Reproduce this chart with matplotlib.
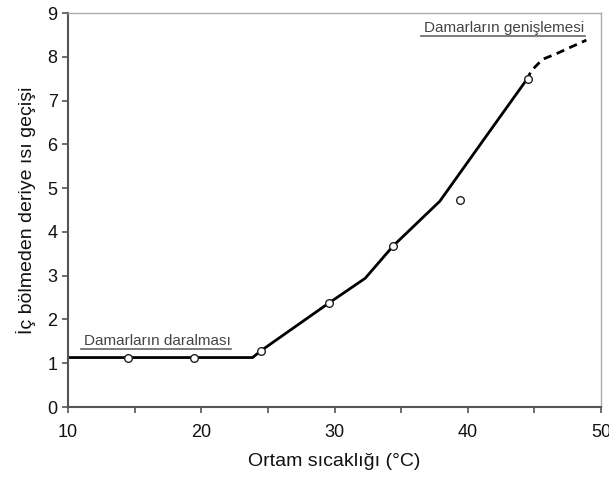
import matplotlib.pyplot as plt
from matplotlib.ticker import MultipleLocator

plt.rcParams['font.family'] = ['Liberation Sans', 'DejaVu Sans']

# measured points
obs_x = [14.5, 19.45, 24.5, 29.6, 34.4, 39.4, 44.5]
obs_y = [1.13, 1.13, 1.29, 2.38, 3.68, 4.72, 7.5]

# fitted curve (solid part)
fit_x = [10, 23.85, 24.5, 29.6, 32.3, 34.4, 37.9, 41.65, 44.4]
fit_y = [1.13, 1.13, 1.29, 2.38, 2.94, 3.68, 4.7, 6.3, 7.47]

# extrapolated part (dashed)
ext_x = [44.4, 44.8, 45.6, 46.65, 47.8, 48.9]
ext_y = [7.47, 7.69, 7.94, 8.07, 8.23, 8.38]

fig = plt.figure(figsize=(6.09, 4.78), dpi=100)
ax = fig.add_axes([0.1117, 0.1485, 0.8752, 0.8243])

ax.plot(fit_x, fit_y, color='black', lw=2.0, solid_capstyle='butt')
ax.plot(ext_x, ext_y, color='black', lw=2.0, ls=(0, (3, 2)))
ax.plot(obs_x, obs_y, 'o', ms=5.5, mfc='white', mec='#222222', mew=1.0, zorder=3)

# annotations with underline
ax.text(11.2, 1.42, 'Damarların daralması', fontsize=11, color='#444444')
ax.plot([11.0, 22.2], [1.32, 1.32], color='#666666', lw=1.2)
ax.text(36.7, 8.57, 'Damarların genişlemesi', fontsize=11, color='#444444')
ax.plot([36.5, 48.8], [8.47, 8.47], color='#666666', lw=1.2)

ax.set_xlim(10, 50)
ax.set_ylim(0, 9)
ax.xaxis.set_major_locator(MultipleLocator(10))
ax.xaxis.set_minor_locator(MultipleLocator(5))
ax.yaxis.set_major_locator(MultipleLocator(1))
ax.tick_params(which='both', direction='out', length=4, width=1.2, color='#555555',
               labelsize=13, labelcolor='#111111')
ax.tick_params(axis='x', pad=8)

for s in ['left', 'bottom']:
    ax.spines[s].set_color('#555555')
    ax.spines[s].set_linewidth(1.5)
for s in ['top', 'right']:
    ax.spines[s].set_color('#aaaaaa')
    ax.spines[s].set_linewidth(1.0)

ax.set_xlabel('Ortam sıcaklığı (°C)', fontsize=14, color='#111111', labelpad=9)
ax.set_ylabel('İç bölmeden deriye ısı geçişi', fontsize=14, color='#111111', labelpad=8)

fig.savefig('out.png', dpi=100)
